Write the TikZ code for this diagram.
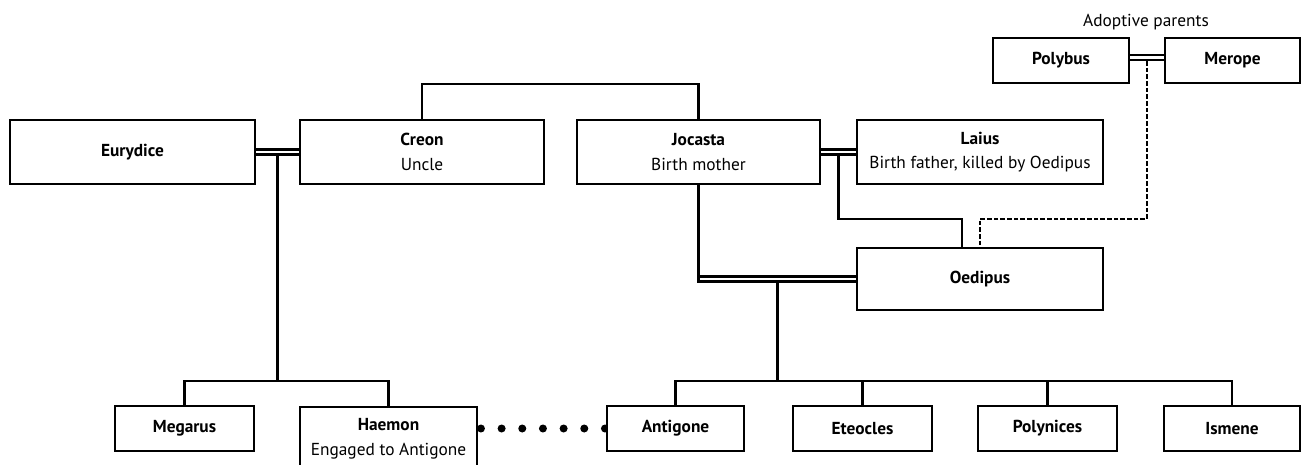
\documentclass[tikz,border=0pt]{standalone}
\usepackage{fontspec}
\setmainfont{PT Sans}
\usetikzlibrary{calc,backgrounds}
\begin{document}
\begin{tikzpicture}[x=0.75pt,y=-0.75pt,
  box/.style={draw, line width=1.4pt, fill=white, inner sep=0pt, align=center,
    font=\fontsize{13}{18.5}\selectfont},
  conn/.style={line width=2pt},
  dbl/.style={double, line width=1.8pt, double distance=2.2pt},
  adopt/.style={line width=1.8pt, dash pattern=on 3.5pt off 1.5pt},
  dotline/.style={line width=6pt, line cap=round, dash pattern=on 0pt off 15.5pt},
  lbl/.style={font=\fontsize{13}{16}\selectfont, inner sep=0pt}]
\newcommand\famnode[6]{\node[box, minimum width=#4*0.75pt, minimum height=#5*0.75pt] (#1) at (#2,#3) {#6};}
\useasboundingbox (0,0) rectangle (1302,464);
\clip (0,0) rectangle (1302,464);
% boxes
\famnode{polybus}{1061}{60.5}{136}{45}{\textbf{Polybus}}
\famnode{merope}{1232.5}{60.5}{135}{45}{\textbf{Merope}}
\node[lbl] (adoptlbl) at (1146,22) {Adoptive parents};
\famnode{eurydice}{132.5}{152}{245}{64}{\textbf{Eurydice}}
\famnode{creon}{422}{152}{244}{64}{\textbf{Creon}\\Uncle}
\famnode{jocasta}{698.5}{152}{243}{64}{\textbf{Jocasta}\\Birth mother}
\famnode{laius}{980}{152}{246}{64}{\textbf{Laius}\\Birth father, killed by Oedipus}
\famnode{oedipus}{980}{279}{246}{62}{\textbf{Oedipus}}
\famnode{megarus}{184.5}{428.5}{139}{45}{\textbf{Megarus}}
\node[box, minimum width=177*0.75pt, minimum height=64*0.75pt, anchor=north] (haemon) at (388.5,406) {\textbf{Haemon}\\Engaged to Antigone};
\famnode{antigone}{675.5}{428.5}{137}{45}{\textbf{Antigone}}
\famnode{eteocles}{862.5}{428.5}{139}{45}{\textbf{Eteocles}}
\famnode{polynices}{1047.5}{428.5}{139}{45}{\textbf{Polynices}}
\famnode{ismene}{1232}{428.5}{136}{45}{\textbf{Ismene}}
% connectors
\begin{scope}[on background layer]
  \coordinate (ec) at ($(eurydice.east)!0.5!(creon.west)$);
  \coordinate (jl) at ($(jocasta.east)!0.5!(laius.west)$);
  \coordinate (pm) at ($(polybus.east)!0.5!(merope.west)$);
  \coordinate (jo) at (jocasta.south |- oedipus.west);
  \coordinate (jom) at ($(jo)!0.5!(oedipus.west)$);
  % marriages
  \draw[dbl] (eurydice.east) -- (creon.west);
  \draw[dbl] (jocasta.east) -- (laius.west);
  \draw[dbl] ($(polybus.east)+(0,-3)$) -- ($(merope.west)+(0,-3)$);
  \draw[dbl] (jo) -- (oedipus.west);
  % siblings Creon - Jocasta
  \draw[conn] (creon.north) -- ++(0,-35) -| (jocasta.north);
  % Creon's children
  \draw[conn] ($(ec)+(0,3.5)$) -- ($(ec |- megarus.north)+(0,-24)$);
  \draw[conn] (megarus.north) -- ++(0,-24) -| (haemon.north);
  % Oedipus parents
  \draw[conn] ($(jl)+(0,3.5)$) |- ($(oedipus.north)+(-18,-28)$) -- ($(oedipus.north)+(-18,0)$);
  \draw[adopt] ($(pm)+(0,0.5)$) |- ($(oedipus.north)+(0,-28)$) -- (oedipus.north);
  \draw[conn] (jocasta.south) -- ($(jo)+(0,3.5)$);
  % Oedipus' children
  \draw[conn] ($(jom)+(0,3.5)$) -- ($(jom |- antigone.north)+(0,-24)$);
  \draw[conn] (antigone.north) -- ++(0,-24) -| (ismene.north);
  \draw[conn] (eteocles.north) -- ++(0,-24);
  \draw[conn] (polynices.north) -- ++(0,-24);
  % engagement
  \draw[dotline] ($(antigone.west -| haemon.east)+(3,0)$) -- ($(antigone.west)+(-1,0)$);
\end{scope}
\end{tikzpicture}
\end{document}
